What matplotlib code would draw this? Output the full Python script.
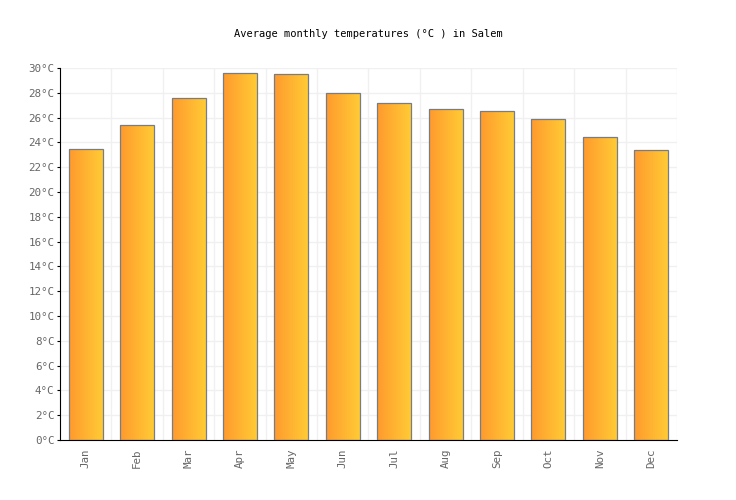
import numpy as np
import matplotlib
matplotlib.use("Agg")
import matplotlib.pyplot as plt
from matplotlib.colors import LinearSegmentedColormap

months = ["Jan", "Feb", "Mar", "Apr", "May", "Jun", "Jul", "Aug", "Sep", "Oct", "Nov", "Dec"]
temps = [23.5, 25.4, 27.6, 29.6, 29.5, 28.0, 27.2, 26.7, 26.5, 25.9, 24.4, 23.4]
yticks = list(range(0, 31, 2))

plt.rcParams["font.family"] = ["DejaVu Sans Mono"]

fig = plt.figure(figsize=(7.36, 5.0), dpi=100)
ax = fig.add_axes([60 / 736, 60 / 500, 617 / 736, 372 / 500])

x = np.arange(len(months))
bars = ax.bar(x, temps, width=0.66, facecolor="none", edgecolor="#787c84", linewidth=0.9, zorder=3)

# gradiente orizzontale arancio -> giallo dentro ogni barra
cmap = LinearSegmentedColormap.from_list("grad", ["#ff9a2e", "#ffcb35"])
grad = np.linspace(0, 1, 64).reshape(1, -1)
for b in bars:
    x0, y0 = b.get_x(), b.get_y()
    im = ax.imshow(grad, cmap=cmap, aspect="auto", zorder=2,
                   extent=(x0, x0 + b.get_width(), y0, y0 + b.get_height()))
    im.set_clip_path(b)

ax.set_xlim(-0.5, len(months) - 0.5)
ax.set_ylim(0, 30)
ax.set_yticks(yticks)
ax.set_yticklabels([f"{t}°C" for t in yticks])
ax.set_xticks(x)
ax.set_xticklabels(months, rotation=90)

# griglia: orizzontale ogni 2 gradi, verticale tra i mesi
for t in yticks[1:]:
    ax.axhline(t, color="#f0f0f0", linewidth=1, zorder=1)
for k in np.arange(0.5, len(months), 1.0):
    ax.axvline(k, color="#f0f0f0", linewidth=1, zorder=1)

for s in ["top", "right"]:
    ax.spines[s].set_visible(False)
ax.spines["left"].set_color("black")
ax.spines["bottom"].set_color("black")
ax.tick_params(axis="both", colors="#666666", labelsize=7.8, length=2)
ax.tick_params(axis="x", length=0, pad=6)
ax.tick_params(axis="y", color="black", pad=2)

fig.text(0.5, 1 - 34 / 500, "Average monthly temperatures (°C ) in Salem",
         ha="center", va="center", fontsize=7.5, color="black")

fig.savefig("out.png", dpi=100)
